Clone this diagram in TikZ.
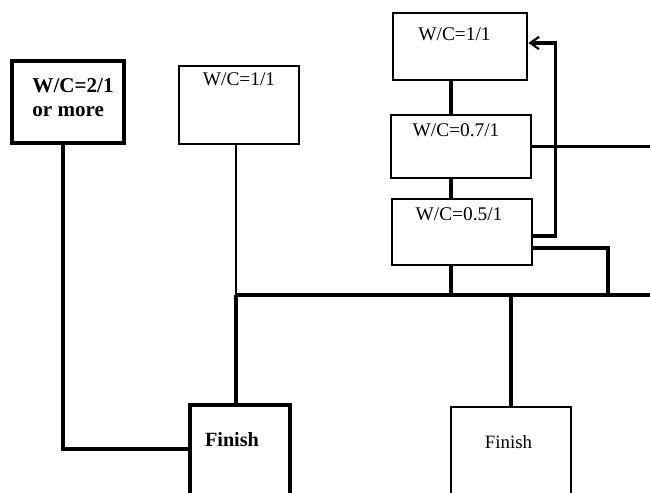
\documentclass[tikz,border=0pt]{standalone}
\usepackage{fontspec}
\setmainfont{Liberation Serif}
\usetikzlibrary{positioning, calc, arrows.meta}

\begin{document}
\begin{tikzpicture}[
        box/.style={rectangle, draw, line width=1.6pt, inner sep=0pt},
        heavybox/.style={box, line width=2.4pt},
        wc/.style={inner sep=0pt, font=\fontsize{11}{13}\selectfont},
        wcbold/.style={inner sep=0pt, align=left, font=\fontsize{12}{14}\selectfont\bfseries},
        line/.style={draw, line width=1.8pt},
        heavyline/.style={draw, line width=2.4pt},
        feedback/.style={line, -{Straight Barb[length=5pt, width=7pt, line width=1.2pt]}}]

        \clip (0,0) rectangle (13,9.84);

        % Nodes
        \node [heavybox, minimum width=2.24cm, minimum height=1.64cm] (more) at (1.36,7.80) {};
        \node [box, line width=1.4pt, minimum width=2.4cm, minimum height=1.56cm] (one) at (4.78,7.74) {};
        \node [box, minimum width=2.68cm, minimum height=1.34cm] (c) at (9.20,8.91) {};
        \node [box, minimum width=2.8cm, minimum height=1.26cm] (d) at (9.22,6.91) {};
        \node [box, minimum width=2.8cm, minimum height=1.32cm] (e) at (9.24,5.20) {};
        \node [heavybox, minimum width=2.0cm, minimum height=1.9cm] (fin1) at (4.80,0.79) {};
        \node [box, line width=1.4pt, minimum width=2.4cm, minimum height=1.86cm] (fin2) at (10.22,0.77) {};

        % Texts
        \node [wcbold, below=0.38cm of more.north, xshift=0.1cm] (moretext) {W/C=2/1\\or more};
        \node [wc, below=0.16cm of one.north] (onetext) {W/C=1/1};
        \node [wc, below=0.32cm of c.north, xshift=-0.11cm] (ctext) {W/C=1/1};
        \node [wc, below=0.20cm of d.north, xshift=-0.10cm] (dtext) {W/C=0.7/1};
        \node [wc, below=0.20cm of e.north, xshift=-0.06cm] (etext) {W/C=0.5/1};
        \node [wcbold, font=\fontsize{11.5}{13}\selectfont\bfseries, below=0.58cm of fin1.north, xshift=-0.16cm] (fin1text) {Finish};
        \node [wc, font=\fontsize{10.7}{13}\selectfont, below=0.58cm of fin2.north, xshift=-0.05cm] (fin2text) {Finish};

        % Helper points
        \coordinate (col) at (9.02,0);
        \coordinate (busl) at (4.72,3.94);
        \coordinate (busr) at (13,3.94);
        \coordinate (tap) at (12.16,3.94);
        \coordinate (dout) at (13,6.94);
        \coordinate (ret) at ($(c.east)+(0.54,0.07)$);

        % Paths
        \path [line] (c.south -| col) -- (d.north -| col);
        \path [line] (d.south -| col) -- (e.north -| col);
        \path [line] (e.south -| col) -- (busl -| col);
        \path [line] (busl) -- (busr);
        \path [line, line width=1.4pt] (one.south -| busl) -- (busl);
        \path [heavyline] (busl) -- (fin1.north -| busl);
        \path [heavyline] ([xshift=-0.1cm]more.south) |- ([yshift=0.07cm]fin1.west);
        \path [line] (busl -| fin2.north) -- (fin2.north);
        \path [line] ([yshift=-0.32cm]e.east) -| (tap);
        \path [line] (d.east) -- (d.east -| dout);
        \path [feedback] ([yshift=-0.08cm]e.east) -| (ret) -- ([yshift=0.07cm]c.east);

    \end{tikzpicture}
\end{document}
